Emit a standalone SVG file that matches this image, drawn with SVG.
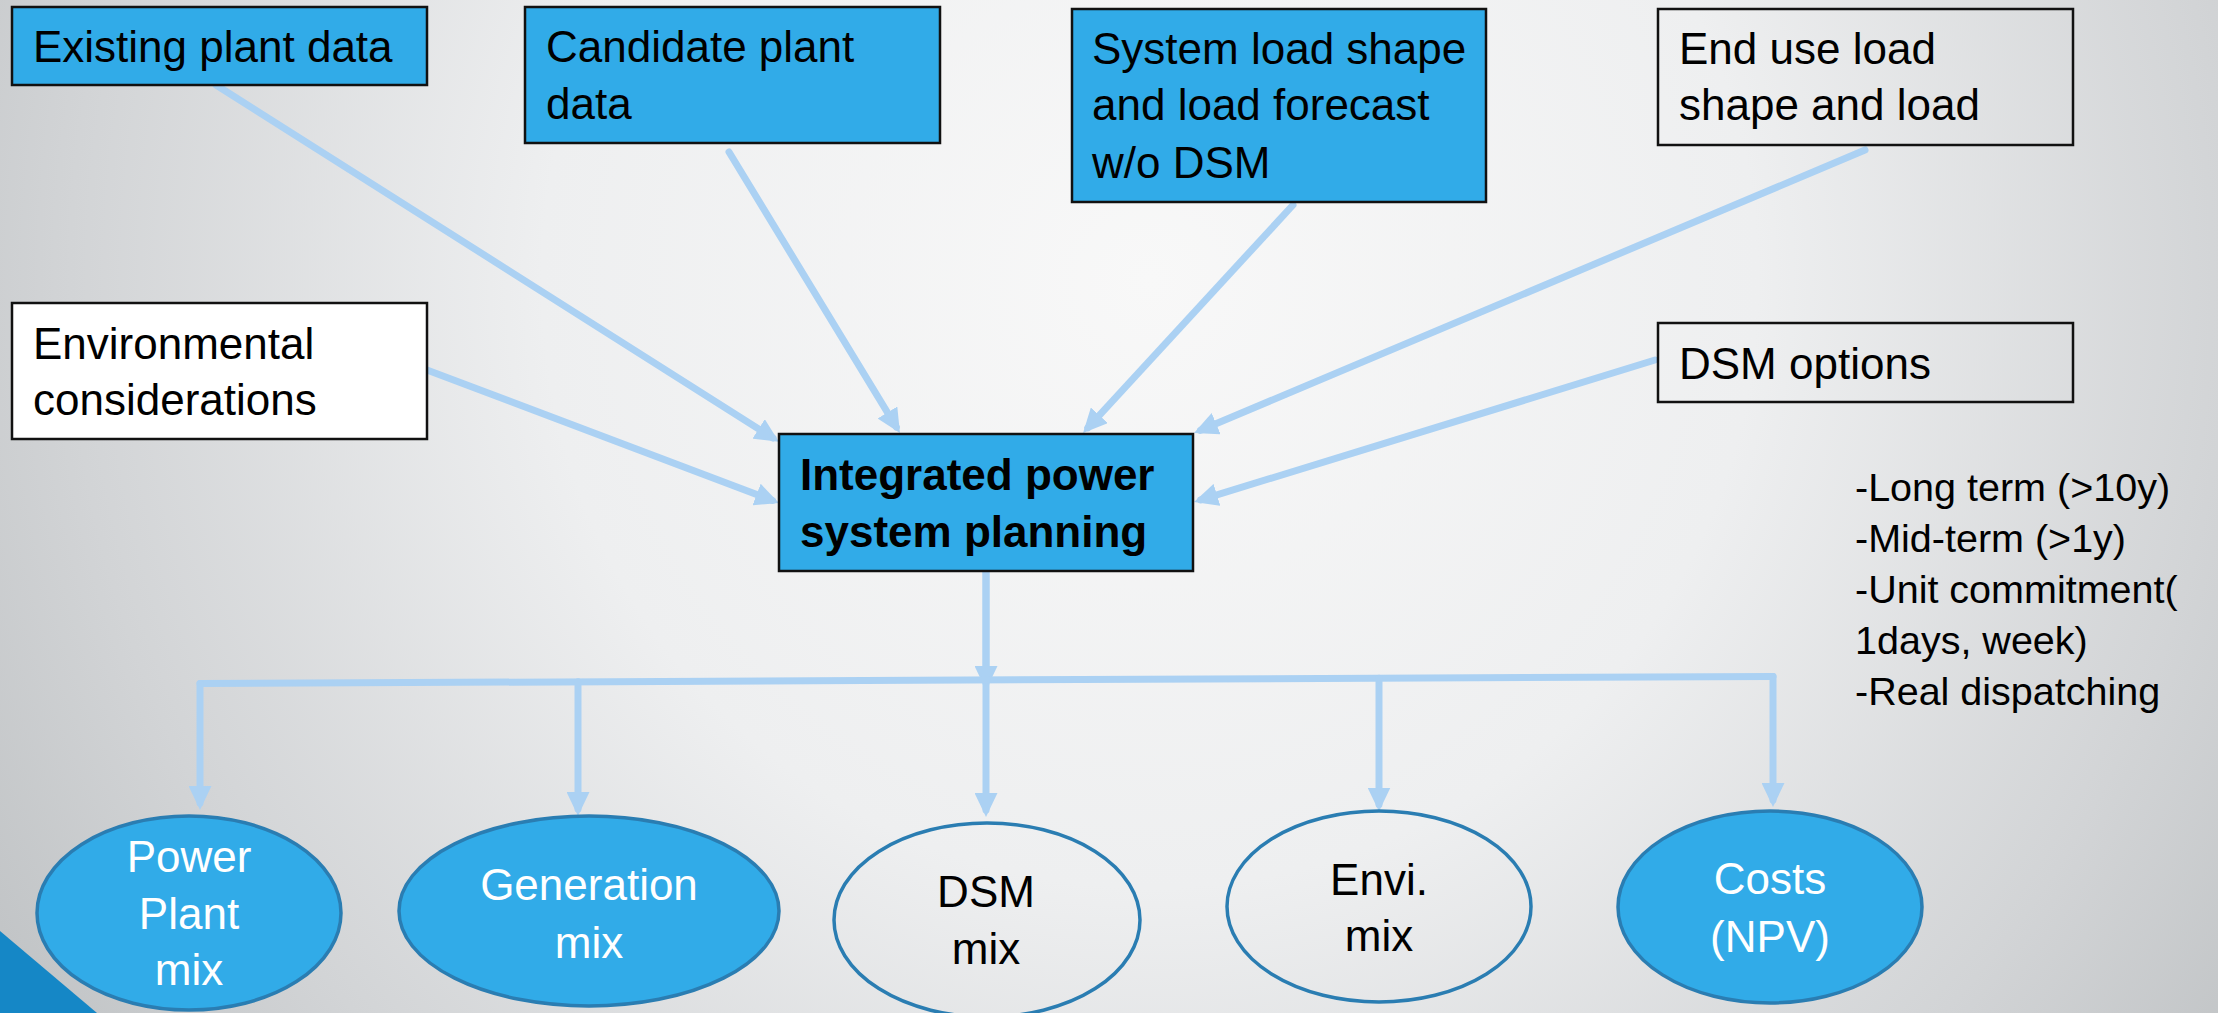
<svg xmlns="http://www.w3.org/2000/svg" width="2218" height="1013" viewBox="0 0 2218 1013">
  <defs>
    <radialGradient id="bg" gradientUnits="userSpaceOnUse" cx="1150" cy="280" r="1350">
      <stop offset="0" stop-color="#f8f8f8"/>
      <stop offset="0.45" stop-color="#eeeff0"/>
      <stop offset="0.8" stop-color="#d2d4d6"/>
      <stop offset="1" stop-color="#c0c3c5"/>
    </radialGradient>
    <marker id="arr" markerUnits="userSpaceOnUse" markerWidth="24" markerHeight="23" viewBox="0 0 24 23" refX="17" refY="11.5" orient="auto">
      <path d="M0,0 L24,11.5 L0,23 z" fill="#abd1f3"/>
    </marker>
    <style>
      .box { stroke: #111; stroke-width: 2.5; }
      .blue { fill: #31abe8; }
      .white { fill: #ffffff; }
      .clear { fill: none; }
      .ell { stroke: #2a7db2; stroke-width: 3.5; }
      .t { font-family: "Liberation Sans", Arial, sans-serif; font-size: 44px; fill: #000; }
      .b { font-weight: bold; }
      .w { fill: #ffffff; }
      .c { text-anchor: middle; }
      .note { font-family: "Liberation Sans", Arial, sans-serif; font-size: 39.5px; fill: #000; }
      .conn { fill: none; stroke: #abd1f3; stroke-width: 7; stroke-linecap: round; stroke-linejoin: round; }
    </style>
  </defs>

  <rect x="0" y="0" width="2218" height="1013" fill="url(#bg)"/>
  <polygon points="0,931 97,1013 0,1013" fill="#1587c6"/>

  <g id="connectors">
    <line class="conn" x1="216" y1="85" x2="773" y2="438" marker-end="url(#arr)"/>
    <line class="conn" x1="729" y1="152" x2="896.3" y2="427" marker-end="url(#arr)"/>
    <line class="conn" x1="1293" y1="205" x2="1087.8" y2="427.8" marker-end="url(#arr)"/>
    <line class="conn" x1="1865" y1="150" x2="1200.5" y2="430.3" marker-end="url(#arr)"/>
    <line class="conn" x1="1655" y1="360" x2="1200.7" y2="499.9" marker-end="url(#arr)"/>
    <line class="conn" x1="427" y1="370" x2="772.5" y2="500.5" marker-end="url(#arr)"/>
    <line class="conn" x1="986" y1="571" x2="986" y2="683" marker-end="url(#arr)"/>
    <line class="conn" x1="986" y1="571" x2="986" y2="810" marker-end="url(#arr)"/>
    <path class="conn" d="M200,683.5 L1773,676.5"/>
    <line class="conn" x1="200" y1="683.5" x2="200" y2="803" marker-end="url(#arr)"/>
    <line class="conn" x1="578" y1="681.8" x2="578" y2="809" marker-end="url(#arr)"/>
    <line class="conn" x1="1379" y1="678.3" x2="1379" y2="804.5" marker-end="url(#arr)"/>
    <line class="conn" x1="1773" y1="676.5" x2="1773" y2="800" marker-end="url(#arr)"/>
  </g>

  <g id="existing-plant-data">
    <rect class="box blue" x="12" y="7" width="415" height="78"/>
    <text class="t" x="33" y="62">Existing plant data</text>
  </g>
  <g id="candidate-plant-data">
    <rect class="box blue" x="525" y="7" width="415" height="136"/>
    <text class="t" x="546" y="62">Candidate plant</text>
    <text class="t" x="546" y="118.5">data</text>
  </g>
  <g id="system-load-shape">
    <rect class="box blue" x="1072" y="9" width="414" height="193"/>
    <text class="t" x="1092" y="63.5">System load shape</text>
    <text class="t" x="1092" y="120">and load forecast</text>
    <text class="t" x="1092" y="178">w/o DSM</text>
  </g>
  <g id="end-use-load-shape">
    <rect class="box clear" x="1658" y="9" width="415" height="136"/>
    <text class="t" x="1679" y="63.5">End use load</text>
    <text class="t" x="1679" y="120">shape and load</text>
  </g>
  <g id="environmental-considerations">
    <rect class="box white" x="12" y="303" width="415" height="136"/>
    <text class="t" x="33" y="358.5">Environmental</text>
    <text class="t" x="33" y="415">considerations</text>
  </g>
  <g id="dsm-options">
    <rect class="box clear" x="1658" y="323" width="415" height="79"/>
    <text class="t" x="1679" y="378.5">DSM options</text>
  </g>
  <g id="integrated-planning">
    <rect class="box blue" x="779" y="434" width="414" height="137"/>
    <text class="t b" x="800" y="490">Integrated power</text>
    <text class="t b" x="800" y="547">system planning</text>
  </g>

  <g id="note">
    <text class="note" x="1855" y="501">-Long term (&gt;10y)</text>
    <text class="note" x="1855" y="551.5">-Mid-term (&gt;1y)</text>
    <text class="note" x="1855" y="603">-Unit commitment(</text>
    <text class="note" x="1855" y="653.5">1days, week)</text>
    <text class="note" x="1855" y="705">-Real dispatching</text>
  </g>

  <g id="power-plant-mix">
    <ellipse class="ell blue" cx="189" cy="913" rx="152" ry="97"/>
    <text class="t w c" x="189" y="872">Power</text>
    <text class="t w c" x="189" y="929">Plant</text>
    <text class="t w c" x="189" y="985">mix</text>
  </g>
  <g id="generation-mix">
    <ellipse class="ell blue" cx="589" cy="911" rx="190" ry="95"/>
    <text class="t w c" x="589" y="900">Generation</text>
    <text class="t w c" x="589" y="958">mix</text>
  </g>
  <g id="dsm-mix">
    <ellipse class="ell clear" cx="987" cy="920" rx="153" ry="97"/>
    <text class="t c" x="986" y="907">DSM</text>
    <text class="t c" x="986" y="964">mix</text>
  </g>
  <g id="envi-mix">
    <ellipse class="ell clear" cx="1379" cy="906.5" rx="152" ry="95.5"/>
    <text class="t c" x="1379" y="895">Envi.</text>
    <text class="t c" x="1379" y="951">mix</text>
  </g>
  <g id="costs-npv">
    <ellipse class="ell blue" cx="1770" cy="907" rx="152" ry="96"/>
    <text class="t w c" x="1770" y="894">Costs</text>
    <text class="t w c" x="1770" y="952">(NPV)</text>
  </g>
</svg>
